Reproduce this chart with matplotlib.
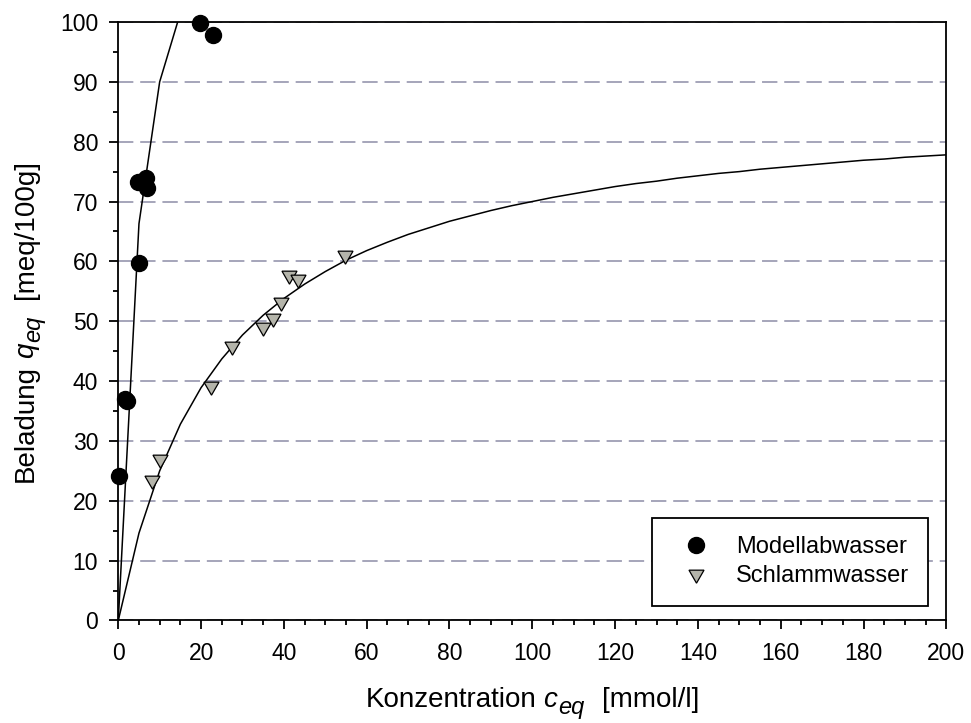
'''
plot.py

Beladung vs. Konzentration (Isothermen Modellabwasser / Schlammwasser)
'''

import matplotlib
matplotlib.use('Agg')
import matplotlib.pyplot as plt
from matplotlib.ticker import MultipleLocator
from matplotlib.transforms import IdentityTransform

plt.rcParams['font.family'] = ['Liberation Sans', 'DejaVu Sans']

# ---------------------------------------------------------------------------- #
# Messpunkte

modell_c = [0.2, 1.7, 2.2, 5.0, 4.8, 6.8, 7.0, 19.8, 22.8]
modell_q = [24.2, 37.0, 36.6, 59.8, 73.3, 73.9, 72.3, 99.9, 97.9]

schlamm_c = [8.1, 10.1, 22.4, 27.5, 35.0, 37.4, 39.2, 41.3, 43.5, 54.8]
schlamm_q = [23.4, 27.0, 39.2, 45.8, 49.0, 50.6, 53.2, 57.7, 57.0, 61.1]

# Modellkurven (Stuetzstellen alle 5 mmol/l)
modell_fit_c = [0, 5, 10, 15, 20]
modell_fit_q = [0, 66.3, 90.0, 101.5, 109.8]

schlamm_fit_c = [0, 5, 10, 15, 20, 25, 30, 35, 40, 45, 50, 55, 60, 65, 70,
                 75, 80, 85, 90, 95, 100, 105, 110, 115, 120, 125, 130, 135,
                 140, 145, 150, 155, 160, 165, 170, 175, 180, 185, 190, 195, 200]
schlamm_fit_q = [0, 14.6, 25.0, 32.8, 38.9, 43.7, 47.7, 51.0, 53.8, 56.2,
                 58.3, 60.2, 61.8, 63.2, 64.5, 65.6, 66.7, 67.6, 68.5, 69.3,
                 70.0, 70.7, 71.3, 71.9, 72.5, 73.0, 73.4, 73.9, 74.3, 74.7,
                 75.0, 75.4, 75.7, 76.0, 76.3, 76.6, 76.9, 77.1, 77.4, 77.6, 77.8]

x_ticks = [0, 20, 40, 60, 80, 100, 120, 140, 160, 180, 200]
y_ticks = [0, 10, 20, 30, 40, 50, 60, 70, 80, 90, 100]

# Achsentitel: (Text, Stil, Groesse, Abstand davor [px], Absenkung [px])
x_label = [('Konzentration', 'normal', 20, 0, 0),
           ('c', 'italic', 20, 7, 0),
           ('eq', 'italic', 17, 1, 7),
           ('[mmol/l]', 'normal', 20, 17, 0)]
y_label = [('Beladung', 'normal', 20, 0, 0),
           ('q', 'italic', 20, 7, 0),
           ('eq', 'italic', 17, 1, 7),
           ('[meq/100g]', 'normal', 20, 17, 0)]

# ---------------------------------------------------------------------------- #

grid_color = '#9e9eb4'
tri_color = '#b4b4aa'
axis_lw = 1.3
tick_size = 16.5

fig = plt.figure(figsize=(9.71, 7.23), dpi=100)
ax = fig.add_axes([0.1218, 0.1418, 0.8528, 0.8278])

ax.plot(modell_fit_c, modell_fit_q, color='black', lw=1.1, zorder=2)
ax.plot(schlamm_fit_c, schlamm_fit_q, color='black', lw=1.1, zorder=2)

ax.plot(modell_c, modell_q, linestyle='none', marker='o', markersize=11.5,
        color='black', label='Modellabwasser', zorder=4, clip_on=False)
ax.plot(schlamm_c, schlamm_q, linestyle='none', marker=(3, 0, 180),
        markersize=12.5, markerfacecolor=tri_color, markeredgecolor='black',
        markeredgewidth=0.9, label='Schlammwasser', zorder=4, clip_on=False)

ax.set_xlim(0, 200)
ax.set_ylim(0, 100)
ax.set_xticks(x_ticks)
ax.set_yticks(y_ticks)
ax.xaxis.set_minor_locator(MultipleLocator(5))
ax.yaxis.set_minor_locator(MultipleLocator(5))

ax.grid(axis='y', which='major', color=grid_color, lw=1.3,
        linestyle=(0, (8.5, 3.8)))
ax.set_axisbelow(True)

for s in ax.spines.values():
    s.set_linewidth(axis_lw)
    s.set_color('black')

ax.tick_params(which='major', direction='out', length=6.5, width=axis_lw,
               labelsize=tick_size, pad=9)
ax.tick_params(which='minor', direction='out', length=3.8, width=axis_lw)
ax.tick_params(axis='y', pad=8)

leg = ax.legend(loc='lower right', bbox_to_anchor=(0.9775, 0.0247),
                numpoints=1, fontsize=17, fancybox=False, framealpha=1,
                edgecolor='black', borderpad=0.78, handlelength=2.15,
                handletextpad=0.64, labelspacing=0.29, borderaxespad=0)
leg.get_frame().set_linewidth(axis_lw)

# Achsentitel mit grossem Index stueckweise setzen
fig.canvas.draw()
renderer = fig.canvas.get_renderer()


def piece_width(text, style, size):
    t = fig.text(0, 0, text, fontsize=size, style=style)
    w = t.get_window_extent(renderer).width
    t.remove()
    return w


def draw_label(pieces, center, base, vertical):
    widths = [piece_width(p[0], p[1], p[2]) for p in pieces]
    total = sum(widths) + sum(p[3] for p in pieces)
    pos = center - total / 2.0
    for (text, style, size, gap, drop), w in zip(pieces, widths):
        pos += gap
        if vertical:
            fig.text(base + drop, pos, text, fontsize=size, style=style,
                     rotation=90, rotation_mode='anchor', ha='left',
                     va='baseline', transform=IdentityTransform())
        else:
            fig.text(pos, base - drop, text, fontsize=size, style=style,
                     ha='left', va='baseline', transform=IdentityTransform())
        pos += w


# Pixelkoordinaten (Ursprung unten links)
draw_label(x_label, 532.3, 16, vertical=False)
draw_label(y_label, 402, 33, vertical=True)

fig.savefig('out.png', dpi=100)
